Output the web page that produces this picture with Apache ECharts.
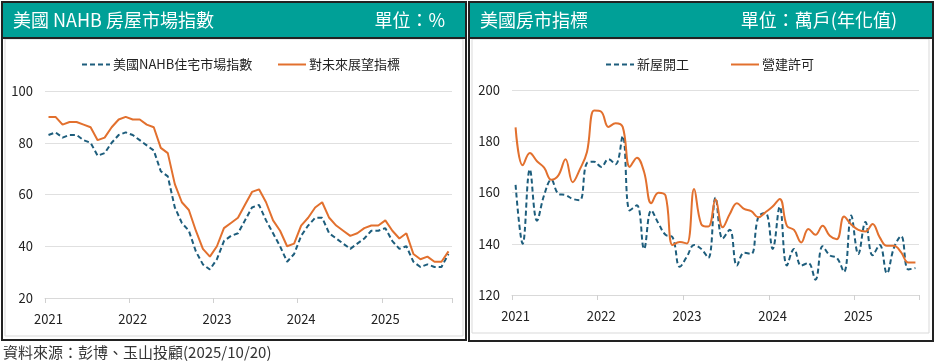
<!DOCTYPE html>
<html><head><meta charset="utf-8">
<script src="https://cdn.jsdelivr.net/npm/echarts@6/dist/echarts.min.js"></script>
<style>html,body{margin:0;padding:0;background:#fff;}#c{width:936px;height:364px;}</style>
</head><body><div id="c"></div>
<script>
// ---- data ----
const years = ['2021','2022','2023','2024','2025'];
const nahbMonthsIn2025 = 10;   // Jan 2021 - Oct 2025
const housingMonthsIn2025 = 9; // Jan 2021 - Sep 2025

const nahbIndex = [83,84,82,83,83,81,80,75,76,80,83,84, 83,81,79,77,69,67,55,49,46,38,33,31, 35,42,44,45,50,55,56,50,45,40,34,37, 44,48,51,51,45,43,41,39,41,43,46,46, 47,42,39,40,34,32,33,32,32,37];
const futureSales = [90,90,87,88,88,87,86,81,82,86,89,90, 89,89,87,86,78,76,64,57,54,46,39,36, 40,47,49,51,56,61,62,57,50,46,40,41, 48,51,55,57,51,48,46,44,45,47,48,48, 50,46,43,45,37,35,36,34,34,38];

const housingStarts = [163,140,169,149,159,165,159.5,159,157.5,157,171.5,172,
  170,173,171,182,153,155,138,153,148,143.5,142.5,131,
  135,139.5,138,134.5,158,142,145.5,131.5,136.5,136,150.5,152,
  138,154.5,131.5,138,131.5,132.5,126,139,135.5,134.5,129,151,
  136,148.5,135.5,139.5,128.5,138.5,143,130,130.5];
const buildingPermits = [185.4,170.6,175.4,172.2,169.7,165,166.7,173,164,169,175.8,192,
  191.5,185.6,187,185.6,170,173.6,168,155.8,159.9,158.8,139.5,140.7,
  140.1,161.4,147.7,146.7,157.4,146.4,151.6,155.8,153.6,152.7,150.3,152.3,
  154.5,157.5,147,145.4,140.5,145.8,143.5,147,143.1,141.8,150.6,147.5,
  145.4,144.8,147.7,142.5,139.2,139.2,136.6,132.7,132.7];

const leftNames = ['美國NAHB住宅市場指數','對未來展望指標'];
const rightNames = ['新屋開工','營建許可'];

function monthCats(lastYearMonths){
  const out=[];
  years.forEach((y,yi)=>{
    const n = yi===years.length-1 ? lastYearMonths : 12;
    for(let m=1;m<=n;m++) out.push(y+'-'+(m<10?'0':'')+m);
  });
  return out;
}
const nahbCats = monthCats(nahbMonthsIn2025);
const housingCats = monthCats(housingMonthsIn2025);

// ---- styles ----
const FONT = '"Noto Sans CJK TC","Noto Sans",sans-serif';
const BLUE = '#1d5d7c';
const ORANGE = '#e2702e';
const TEAL = '#00a097';

function xAxis(gi, cats){
  return {type:'category', gridIndex:gi, data:cats, boundaryGap:true,
    axisLine:{lineStyle:{color:'#d9d9d9',width:1}},
    axisTick:{show:true, interval:11, length:5, lineStyle:{color:'#d0d0d0'}},
    axisLabel:{interval:11, color:'#222', fontSize:13, fontFamily:FONT, margin:15,
      formatter:v=>v.slice(0,4)}};
}
function yAxis(gi,min,max){
  return {type:'value', gridIndex:gi, min:min, max:max, interval:20,
    axisLine:{show:false}, axisTick:{show:false},
    splitLine:{lineStyle:{color:'#e0e0e0',width:1}},
    axisLabel:{color:'#222', fontSize:13, fontFamily:FONT, margin:12}};
}
function legend(name, left){
  return {data:[name], left:left, top:53, itemWidth:28, itemHeight:12, itemGap:0,
    itemStyle:{opacity:0},
    textStyle:{color:'#222', fontSize:13, fontFamily:FONT, padding:[0,0,0,-2]}};
}

const option = {
  animation:false,
  textStyle:{fontFamily:FONT},
  grid:[
    {left:45, top:91, width:407, height:207},
    {left:512, top:90, width:407, height:205}
  ],
  xAxis:[xAxis(0,nahbCats), xAxis(1,housingCats)],
  yAxis:[yAxis(0,20,100), yAxis(1,120,200)],
  legend:[legend(leftNames[0],76), legend(leftNames[1],272), legend(rightNames[0],600), legend(rightNames[1],725)],
  series:[
    {name:leftNames[0], type:'line', xAxisIndex:0, yAxisIndex:0, data:nahbIndex, symbol:'none',
      lineStyle:{color:BLUE,width:2,type:[5,3]}, itemStyle:{color:BLUE}},
    {name:leftNames[1], type:'line', xAxisIndex:0, yAxisIndex:0, data:futureSales, symbol:'none',
      lineStyle:{color:ORANGE,width:2}, itemStyle:{color:ORANGE}},
    {name:rightNames[0], type:'line', xAxisIndex:1, yAxisIndex:1, data:housingStarts, symbol:'none', smooth:0.4,
      lineStyle:{color:BLUE,width:2,type:[5,3]}, itemStyle:{color:BLUE}},
    {name:rightNames[1], type:'line', xAxisIndex:1, yAxisIndex:1, data:buildingPermits, symbol:'none', smooth:0.4,
      lineStyle:{color:ORANGE,width:2}, itemStyle:{color:ORANGE}}
  ],
  graphic:[
    // left panel frame
    {type:'rect', shape:{x:5,y:39,width:458,height:297}, style:{fill:'none',stroke:'#d9d9d9',lineWidth:1}, z:-1},
    {type:'rect', shape:{x:2,y:2,width:464,height:338}, style:{fill:'none',stroke:'#222',lineWidth:2}, z:10},
    {type:'rect', shape:{x:2,y:2,width:464,height:36}, style:{fill:TEAL,stroke:'#222',lineWidth:2}, z:9},
    {type:'text', x:13, y:20, style:{text:'美國 NAHB 房屋市場指數', fill:'#fff', font:'18px '+FONT, textVerticalAlign:'middle'}, z:11},
    {type:'text', x:445, y:20, style:{text:'單位：%', fill:'#fff', font:'18px '+FONT, textAlign:'right', textVerticalAlign:'middle'}, z:11},
    // right panel frame
    {type:'rect', shape:{x:472,y:39,width:457,height:294}, style:{fill:'none',stroke:'#d9d9d9',lineWidth:1}, z:-1},
    {type:'rect', shape:{x:469,y:2,width:464,height:339}, style:{fill:'none',stroke:'#222',lineWidth:2}, z:10},
    {type:'rect', shape:{x:469,y:2,width:464,height:36}, style:{fill:TEAL,stroke:'#222',lineWidth:2}, z:9},
    {type:'text', x:480, y:20, style:{text:'美國房市指標', fill:'#fff', font:'18px '+FONT, textVerticalAlign:'middle'}, z:11},
    {type:'text', x:897, y:20, style:{text:'單位：萬戶(年化值)', fill:'#fff', font:'18px '+FONT, textAlign:'right', textVerticalAlign:'middle'}, z:11},
    // source
    {type:'text', x:3, y:352, style:{text:'資料來源：彭博、玉山投顧(2025/10/20)', fill:'#333', font:'15px '+FONT, textVerticalAlign:'middle'}, z:11}
  ]
};
const chart = echarts.init(document.getElementById('c'), null, {renderer:'canvas'});
chart.setOption(option);
</script></body></html>
